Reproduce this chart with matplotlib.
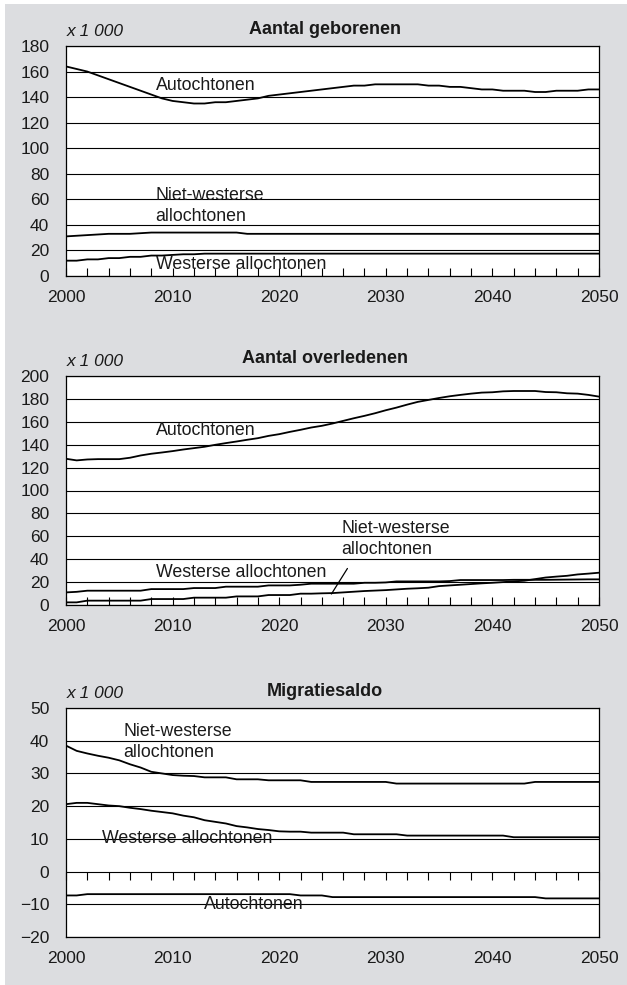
import matplotlib
matplotlib.use('Agg')
import matplotlib.pyplot as plt
from matplotlib.patches import Rectangle
from matplotlib.ticker import MultipleLocator

plt.rcParams['font.family'] = ['Liberation Sans', 'DejaVu Sans']

years = list(range(2000, 2051))

# Aantal geborenen (x 1 000)
born_autochtonen = [164, 162, 160, 157, 154, 151, 148, 145, 142, 139,
                    137, 136, 135, 135, 136, 136, 137, 138, 139, 141,
                    142, 143, 144, 145, 146, 147, 148, 149, 149, 150,
                    150, 150, 150, 150, 149, 149, 148, 148, 147, 146,
                    146, 145, 145, 145, 144, 144, 145, 145, 145, 146, 146]
born_nietwesters = [31, 31.5, 32, 32.5, 33, 33, 33, 33.5, 34, 34,
                    34, 34, 34, 34, 34, 34, 34, 33, 33, 33,
                    33, 33, 33, 33, 33, 33, 33, 33, 33, 33,
                    33, 33, 33, 33, 33, 33, 33, 33, 33, 33,
                    33, 33, 33, 33, 33, 33, 33, 33, 33, 33, 33]
born_westers = [12, 12, 13, 13, 14, 14, 15, 15, 16, 16,
                16.5, 17, 17, 17.5, 17.5, 17.5, 17.5, 17.5, 17.5, 17.5,
                17.5, 17.5, 17.5, 17.5, 17.5, 17.5, 17.5, 17.5, 17.5, 17.5,
                17.5, 17.5, 17.5, 17.5, 17.5, 17.5, 17.5, 17.5, 17.5, 17.5,
                17.5, 17.5, 17.5, 17.5, 17.5, 17.5, 17.5, 17.5, 17.5, 17.5, 17.5]

# Aantal overledenen (x 1 000)
died_autochtonen = [127.7, 126.3, 127.1, 127.4, 127.4, 127.4, 128.6, 130.6, 132.1, 133.2,
                    134.4, 135.8, 137.0, 138.2, 139.9, 141.4, 142.8, 144.3, 145.7, 147.7,
                    149.2, 151.2, 153.0, 155.0, 156.5, 158.5, 160.8, 163.1, 165.2, 167.5,
                    170.1, 172.4, 175.0, 177.4, 179.1, 180.8, 182.3, 183.5, 184.6, 185.5,
                    185.8, 186.6, 186.9, 186.9, 186.9, 186.0, 185.8, 184.9, 184.6, 183.5, 182.0]
died_westers = [11, 11.5, 12.5, 12.5, 12.5, 12.5, 12.5, 12.5, 13.9, 13.9,
                13.9, 13.9, 14.8, 14.8, 14.8, 16, 16, 16, 16, 17.1,
                17.1, 17.1, 17.7, 18.6, 18.6, 18.6, 18.6, 18.6, 19.4, 19.4,
                19.7, 20.6, 20.6, 20.6, 20.6, 20.6, 20.9, 21.8, 21.8, 21.8,
                21.8, 21.8, 22, 22, 22, 22, 22.1, 22.2, 22.3, 22.4, 22.4]
died_nietwesters = [2.3, 2.3, 3.8, 3.8, 3.8, 3.8, 3.8, 3.8, 5.2, 5.2,
                    5.2, 5.2, 6.4, 6.4, 6.4, 6.4, 7.5, 7.5, 7.5, 8.7,
                    8.7, 8.7, 9.9, 9.9, 10.2, 10.4, 11, 11.6, 12.2, 12.6,
                    13, 13.6, 14.2, 14.6, 15.1, 16.5, 17.1, 17.7, 18.3, 18.9,
                    19.4, 20, 20.6, 21.2, 22.6, 24, 24.8, 25.5, 26.7, 27.4, 28.2]

# Migratiesaldo (x 1 000)
migr_nietwesters = [38.5, 36.9, 36.1, 35.4, 34.8, 34.0, 32.8, 31.8, 30.5, 30.0,
                    29.5, 29.3, 29.2, 28.8, 28.8, 28.8, 28.2, 28.2, 28.2, 27.9,
                    27.9, 27.9, 27.9, 27.4, 27.4, 27.4, 27.4, 27.4, 27.4, 27.4,
                    27.4, 26.9, 26.9, 26.9, 26.9, 26.9, 26.9, 26.9, 26.9, 26.9,
                    26.9, 26.9, 26.9, 26.9, 27.4, 27.4, 27.4, 27.4, 27.4, 27.4, 27.4]
migr_westers = [20.6, 21.0, 21.0, 20.6, 20.2, 20.0, 19.5, 19.1, 18.6, 18.2,
                17.8, 17.1, 16.6, 15.7, 15.2, 14.7, 13.9, 13.5, 13.0, 12.7,
                12.3, 12.2, 12.2, 11.9, 11.9, 11.9, 11.9, 11.4, 11.4, 11.4,
                11.4, 11.4, 11.0, 11.0, 11.0, 11.0, 11.0, 11.0, 11.0, 11.0,
                11.0, 11.0, 10.5, 10.5, 10.5, 10.5, 10.5, 10.5, 10.5, 10.5, 10.5]
migr_autochtonen = [-7.3, -7.3, -6.9, -6.9, -6.9, -6.9, -6.9, -6.9, -6.9, -6.9,
                    -6.9, -6.9, -6.9, -6.9, -6.9, -6.9, -6.9, -6.9, -6.9, -6.9,
                    -6.9, -6.9, -7.3, -7.3, -7.3, -7.8, -7.8, -7.8, -7.8, -7.8,
                    -7.8, -7.8, -7.8, -7.8, -7.8, -7.8, -7.8, -7.8, -7.8, -7.8,
                    -7.8, -7.8, -7.8, -7.8, -7.8, -8.2, -8.2, -8.2, -8.2, -8.2, -8.2]

W, H = 627, 985
BG = '#dcdde0'
FS = 12.5

fig = plt.figure(figsize=(W / 100, H / 100), dpi=100)
fig.patch.set_facecolor('white')
fig.patches.append(Rectangle((5 / W, 0), 1, 1 - 4 / H, transform=fig.transFigure,
                             facecolor=BG, edgecolor='none', zorder=-10))


def make_panel(top_px, bottom_px, title, title_px, ylim, ystep):
    ax = fig.add_axes([66 / W, 1 - bottom_px / H, (599 - 66) / W, (bottom_px - top_px) / H])
    ax.set_xlim(2000, 2050)
    ax.set_ylim(*ylim)
    ax.set_yticks(range(ylim[0], ylim[1] + 1, ystep))
    ax.set_xticks(range(2000, 2051, 10))
    ax.grid(axis='y', color='black', linewidth=0.8)
    ax.set_axisbelow(True)
    for s in ax.spines.values():
        s.set_color('black')
        s.set_linewidth(0.9)
    ax.tick_params(axis='y', length=0, pad=12, labelsize=FS, labelcolor='#1a1a1a')
    ax.tick_params(axis='x', labelsize=FS, labelcolor='#1a1a1a', pad=10)
    fig.text(325 / W, 1 - title_px / H, title, ha='center', va='center',
             fontsize=13, fontweight='bold', color='#1a1a1a')
    fig.text(67 / W, 1 - (title_px + 3) / H, 'x 1 000', ha='left', va='center',
             fontsize=FS, style='italic', color='#1a1a1a')
    return ax


lw = 1.3
txt = dict(fontsize=12.8, color='#1a1a1a', ha='left', va='center')

# Panel 1
ax1 = make_panel(46, 276, 'Aantal geborenen', 29, (0, 180), 20)
ax1.xaxis.set_minor_locator(MultipleLocator(2))
ax1.tick_params(axis='x', which='both', direction='in', length=6, width=0.8)
ax1.plot(years, born_autochtonen, color='black', lw=lw)
ax1.plot(years, born_nietwesters, color='black', lw=lw)
ax1.plot(years, born_westers, color='black', lw=lw)
ax1.text(2008.4, 149.4, 'Autochtonen', **txt)
ax1.text(2008.4, 55, 'Niet-westerse\nallochtonen', linespacing=1.3, **txt)
ax1.text(2008.4, 8.9, 'Westerse allochtonen', **txt)

# Panel 2
ax2 = make_panel(376, 605, 'Aantal overledenen', 358, (0, 200), 20)
ax2.xaxis.set_minor_locator(MultipleLocator(2))
ax2.tick_params(axis='x', which='both', direction='in', length=6, width=0.8)
ax2.plot(years, died_autochtonen, color='black', lw=lw)
ax2.plot(years, died_westers, color='black', lw=lw)
ax2.plot(years, died_nietwesters, color='black', lw=lw)
ax2.text(2008.4, 152, 'Autochtonen', **txt)
ax2.text(2025.8, 58, 'Niet-westerse\nallochtonen', linespacing=1.3, **txt)
ax2.text(2008.4, 28.4, 'Westerse allochtonen', **txt)
ax2.annotate('', xy=(2024.9, 9.6), xytext=(2026.4, 31.9),
             arrowprops=dict(arrowstyle='-', color='black', lw=0.9,
                             shrinkA=0, shrinkB=0))

# Panel 3
ax3 = make_panel(708, 937, 'Migratiesaldo', 691, (-20, 50), 10)
ax3.tick_params(axis='x', length=0)
sec = ax3.secondary_xaxis(20 / 70)
sec.set_xticks(range(2000, 2051, 2))
sec.tick_params(direction='out', length=6, width=0.8, labelbottom=False)
sec.spines['bottom'].set_visible(False)
ax3.plot(years, migr_nietwesters, color='black', lw=lw)
ax3.plot(years, migr_westers, color='black', lw=lw)
ax3.plot(years, migr_autochtonen, color='black', lw=lw)
ax3.text(2005.4, 39.7, 'Niet-westerse\nallochtonen', linespacing=1.3, **txt)
ax3.text(2003.4, 10.2, 'Westerse allochtonen', **txt)
ax3.text(2012.9, -10.2, 'Autochtonen', **txt)

fig.savefig('out.png', dpi=100, facecolor=fig.get_facecolor())
